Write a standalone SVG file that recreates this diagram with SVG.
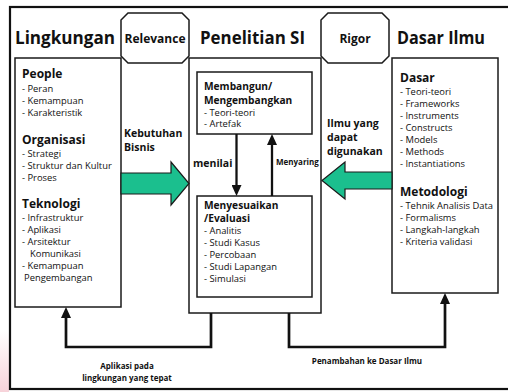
<svg xmlns="http://www.w3.org/2000/svg" width="508" height="392" viewBox="0 0 508 392">
<style>
text{font-family:"Open Sans","Noto Sans","Liberation Sans",sans-serif;fill:#111}
.title{font-size:18.5px;font-weight:700}
.tag{font-size:12px;font-weight:700}
.h{font-size:12px;font-weight:700}
.hc{font-size:10.2px;font-weight:700}
.li{font-size:9.4px}
.lab{font-size:10.5px;font-weight:700}
.sm{font-size:8px;font-weight:700}
.box{fill:#fff;stroke:#1a1a1a;stroke-width:1.5}
.wire{fill:none;stroke:#111;stroke-width:2.7;stroke-linejoin:miter}
.vline{fill:none;stroke:#111;stroke-width:2.3}
.block{fill:#1bbf8e;stroke:#1a1a1a;stroke-width:1.2;stroke-linejoin:miter}
</style>
<defs>
<marker id="ah" viewBox="0 0 11 10" refX="5" refY="5" markerWidth="11" markerHeight="10" markerUnits="userSpaceOnUse" orient="auto">
<path d="M0,0 L11,5 L0,10 z" fill="#111"/>
</marker>
<linearGradient id="pink" x1="0" y1="0" x2="0" y2="1">
<stop offset="0" stop-color="#f7d3da" stop-opacity="0"/>
<stop offset="1" stop-color="#f7d3da" stop-opacity="1"/>
</linearGradient>
</defs>
<rect x="0" y="0" width="508" height="392" fill="#fff"/>
<rect x="0" y="330" width="9" height="62" fill="url(#pink)"/>
<g id="frame">
<rect x="10" y="7" width="510" height="382" fill="none" stroke="#111" stroke-width="2.2"/>
</g>
<g id="titles">
<text class="title" x="15" y="44" textLength="100" lengthAdjust="spacingAndGlyphs">Lingkungan</text>
<text class="title" x="200" y="44" textLength="105" lengthAdjust="spacingAndGlyphs">Penelitian SI</text>
<text class="title" x="397" y="44" textLength="88" lengthAdjust="spacingAndGlyphs">Dasar Ilmu</text>
</g>
<g id="node-relevance">
<polygon class="box" points="128,13 182,13 189,20 189,56 182,63 128,63 121,56 121,20"/>
<text class="tag" x="155" y="43" text-anchor="middle">Relevance</text>
</g>
<g id="node-rigor">
<polygon class="box" points="328,13 382,13 389,20 389,56 382,63 328,63 321,56 321,20"/>
<text class="tag" x="355" y="43" text-anchor="middle">Rigor</text>
</g>
<g id="node-lingkungan">
<rect class="box" x="15" y="58" width="106" height="249"/>
<text class="h" x="22" y="78">People</text>
<text class="li" x="22" y="92">- Peran</text>
<text class="li" x="22" y="104">- Kemampuan</text>
<text class="li" x="22" y="116">- Karakteristik</text>
<text class="h" x="22" y="144">Organisasi</text>
<text class="li" x="22" y="156.5">- Strategi</text>
<text class="li" x="22" y="168.5">- Struktur dan Kultur</text>
<text class="li" x="22" y="180.5">- Proses</text>
<text class="h" x="22" y="208">Teknologi</text>
<text class="li" x="22" y="221">- Infrastruktur</text>
<text class="li" x="22" y="233">- Aplikasi</text>
<text class="li" x="22" y="245">- Arsitektur</text>
<text class="li" x="30" y="257">Komunikasi</text>
<text class="li" x="22" y="269">- Kemampuan</text>
<text class="li" x="24" y="281">Pengembangan</text>
</g>
<g id="node-penelitian">
<rect class="box" x="189" y="58" width="132" height="255"/>
</g>
<g id="node-membangun">
<rect class="box" x="197" y="72" width="115" height="62"/>
<text class="hc" x="204" y="90">Membangun/</text>
<text class="hc" x="204" y="103.5">Mengembangkan</text>
<text class="li" x="204" y="115.5">- Teori-teori</text>
<text class="li" x="204" y="127">- Artefak</text>
</g>
<g id="node-evaluasi">
<rect class="box" x="197" y="196" width="115" height="101"/>
<text class="hc" x="204" y="209">Menyesuaikan</text>
<text class="hc" x="204" y="221.5">/Evaluasi</text>
<text class="li" x="204" y="234">- Analitis</text>
<text class="li" x="204" y="246">- Studi Kasus</text>
<text class="li" x="204" y="258">- Percobaan</text>
<text class="li" x="204" y="270">- Studi Lapangan</text>
<text class="li" x="204" y="282">- Simulasi</text>
</g>
<g id="node-dasar">
<rect class="box" x="392" y="58" width="106" height="235"/>
<text class="h" x="400" y="81.5">Dasar</text>
<text class="li" x="400" y="95">- Teori-teori</text>
<text class="li" x="400" y="107">- Frameworks</text>
<text class="li" x="400" y="119">- Instruments</text>
<text class="li" x="400" y="131">- Constructs</text>
<text class="li" x="400" y="143">- Models</text>
<text class="li" x="400" y="155">- Methods</text>
<text class="li" x="400" y="167">- Instantiations</text>
<text class="h" x="400" y="196">Metodologi</text>
<text class="li" x="400" y="208.5">- Tehnik Analisis Data</text>
<text class="li" x="400" y="220.5">- Formalisms</text>
<text class="li" x="400" y="232.5">- Langkah-langkah</text>
<text class="li" x="400" y="244.5">- Kriteria validasi</text>
</g>
<g id="connectors">
<polygon class="block" points="121,173 171,173 171,162 189,183.5 171,205 171,194 121,194"/>
<polygon class="block" points="392,172 345,172 345,162 322,180.5 345,199 345,189 392,189"/>
<text class="lab" x="124" y="137">Kebutuhan</text>
<text class="lab" x="124" y="151">Bisnis</text>
<text class="lab" x="327" y="127">Ilmu yang</text>
<text class="lab" x="327" y="141">dapat</text>
<text class="lab" x="327" y="155">digunakan</text>
<path class="vline" d="M236.5,134 V190" marker-end="url(#ah)"/>
<path class="vline" d="M272,196 V140" marker-end="url(#ah)"/>
<text class="lab" x="193" y="167">menilai</text>
<text class="sm" x="276" y="165">Menyaring</text>
<path class="wire" d="M211,313 V347 H66 V313" marker-end="url(#ah)"/>
<path class="wire" d="M289,313 V347 H445 V299" marker-end="url(#ah)"/>
<text class="sm" x="127" y="369" text-anchor="middle">Aplikasi pada</text>
<text class="sm" x="127" y="380.5" text-anchor="middle">lingkungan yang tepat</text>
<text class="sm" x="367" y="364" text-anchor="middle">Penambahan ke Dasar Ilmu</text>
</g>
</svg>
